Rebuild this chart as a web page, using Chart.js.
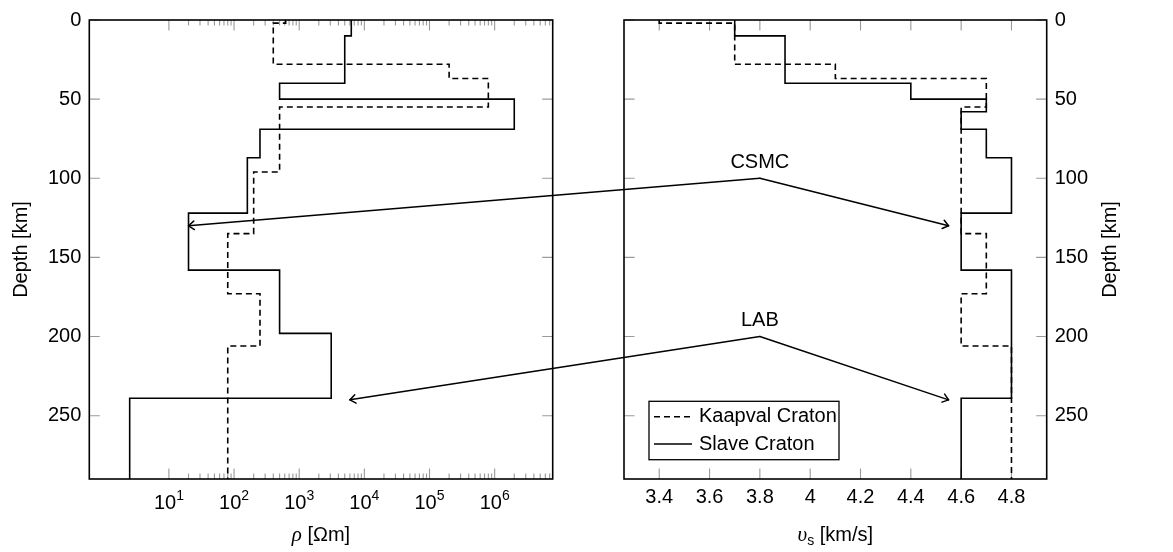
<!DOCTYPE html>
<html><head><meta charset="utf-8">
<script src="https://cdn.jsdelivr.net/npm/chart.js@4/dist/chart.umd.min.js"></script>
<style>
html,body{margin:0;padding:0;background:#fff;}
#wrap{position:relative;width:1173px;height:552px;background:#fff;}
canvas{position:absolute;left:0;top:0;}
</style></head><body>
<div id="wrap">
<canvas id="c1" width="1173" height="552"></canvas>
<canvas id="c2" width="1173" height="552"></canvas>
<canvas id="c3" width="1173" height="552"></canvas>
</div>
<script>
// ---------------- data ----------------
const seriesNames = ['Kaapval Craton', 'Slave Craton'];
const kaapvalTop = [0, 2, 28, 37, 55, 96, 135, 173, 206];
const kaapvalRho = [620, 400, 2e5, 8e5, 500, 200, 80, 250, 80];
const kaapvalVs  = [3.4, 3.7, 4.1, 4.7, 4.6, 4.6, 4.7, 4.6, 4.8];
const slaveTop = [0, 10, 40, 50, 58, 69, 87, 122, 158, 198, 239];
const slaveRho = [6300, 5000, 500, 2e6, 2e6, 250, 160, 20, 500, 3100, 2.5];
const slaveVs  = [3.7, 3.9, 4.4, 4.7, 4.6, 4.7, 4.8, 4.6, 4.8, 4.8, 4.6];
const depthMax = 290;
const depthTicks = [0, 50, 100, 150, 200, 250];
const rhoTicks = [1e1, 1e2, 1e3, 1e4, 1e5, 1e6];
const rhoRange = [0.643, 7.78e6];
const vsTicks = [3.4, 3.6, 3.8, 4.0, 4.2, 4.4, 4.6, 4.8];
const vsRange = [3.26, 4.94];
const annotLabels = ['CSMC', 'LAB'];
const annotFrom = [[3.8, 100], [3.8, 200]];
const annotToRho = [[20, 130], [6000, 240]];
const annotToVs = [[4.55, 130], [4.55, 240]];

// ---------------- helpers ----------------
const SANS = '"Liberation Sans", Arial, Helvetica, sans-serif';
const FS = 20;
function buildProfile(tops, vals) {
  const pts = tops.map((d, i) => ({x: vals[i], y: d}));
  pts.push({x: vals[vals.length - 1], y: depthMax});
  return pts;
}
const rhoMinor = rhoTicks.flatMap(m => [2,3,4,5,6,7,8,9].map(k => m * k)).filter(v => v <= rhoRange[1]);

function drawParts(ctx, parts, cx, baseY) {
  let total = 0;
  parts.forEach(p => { ctx.font = p.font; p.w = ctx.measureText(p.t).width; total += p.w; });
  let x = cx - total / 2;
  ctx.textAlign = 'left'; ctx.textBaseline = 'alphabetic'; ctx.fillStyle = '#000';
  parts.forEach(p => { ctx.font = p.font; ctx.fillText(p.t, x, baseY + (p.dy || 0)); x += p.w; });
}
function drawDepthTitle(ctx, x, y) {
  ctx.save();
  ctx.translate(x, y); ctx.rotate(-Math.PI / 2);
  ctx.font = FS + 'px ' + SANS; ctx.textAlign = 'center'; ctx.textBaseline = 'alphabetic'; ctx.fillStyle = '#000';
  ctx.fillText('Depth [km]', 0, 0);
  ctx.restore();
}

function panelPlugin(kind) {
  return {
    id: 'panel_' + kind,
    beforeDatasetsDraw(chart) {
      const {ctx, chartArea: a, scales: {x, y}} = chart;
      ctx.save();
      ctx.strokeStyle = '#9a9a9a'; ctx.lineWidth = 1.1;
      ctx.beginPath();
      const tx = (v, len) => {
        const p = x.getPixelForValue(v);
        ctx.moveTo(p, a.bottom); ctx.lineTo(p, a.bottom - len);
        ctx.moveTo(p, a.top); ctx.lineTo(p, a.top + len);
      };
      if (kind === 'rho') { rhoTicks.forEach(v => tx(v, 10.5)); rhoMinor.forEach(v => tx(v, 5.5)); }
      else { vsTicks.forEach(v => tx(v, 10.5)); }
      depthTicks.forEach(v => {
        const p = y.getPixelForValue(v);
        ctx.moveTo(a.left, p); ctx.lineTo(a.left + 10.5, p);
        ctx.moveTo(a.right, p); ctx.lineTo(a.right - 10.5, p);
      });
      ctx.stroke();
      ctx.restore();
    },
    afterDraw(chart) {
      const {ctx, chartArea: a, scales: {x}} = chart;
      ctx.save();
      ctx.strokeStyle = '#000'; ctx.lineWidth = 1.6;
      ctx.strokeRect(a.left, a.top, a.right - a.left, a.bottom - a.top);
      if (kind === 'rho') {
        rhoTicks.forEach(v => {
          const p = x.getPixelForValue(v);
          const e = String(Math.round(Math.log10(v)));
          drawParts(ctx, [
            {t: '10', font: FS + 'px ' + SANS},
            {t: e, font: '14px ' + SANS, dy: -8.5}
          ], p, a.bottom + 29.5);
        });
        drawParts(ctx, [
          {t: 'ρ', font: 'italic 21px "Liberation Serif", "DejaVu Serif", serif'},
          {t: ' [Ωm]', font: FS + 'px ' + SANS}
        ], (a.left + a.right) / 2, a.bottom + 62);
        drawDepthTitle(ctx, a.left - 62.5, (a.top + a.bottom) / 2);
      } else {
        drawParts(ctx, [
          {t: 'υ', font: 'italic 21px "Liberation Serif", "DejaVu Serif", serif'},
          {t: 's', font: '14px ' + SANS, dy: 4},
          {t: ' [km/s]', font: FS + 'px ' + SANS}
        ], (a.left + a.right) / 2, a.bottom + 62);
        drawDepthTitle(ctx, a.right + 69.5, (a.top + a.bottom) / 2);
        // legend
        const lx = a.left + 25, ly = a.top + 381.3, lw = 190, lh = 58.4;
        ctx.fillStyle = '#fff'; ctx.fillRect(lx, ly, lw, lh);
        ctx.strokeStyle = '#000'; ctx.lineWidth = 1.3; ctx.strokeRect(lx, ly, lw, lh);
        chart.data.datasets.forEach((ds, i) => {
          const yy = ly + 15.4 + i * 27.3;
          ctx.beginPath();
          ctx.setLineDash(ds.borderDash || []);
          ctx.lineWidth = ds.borderWidth; ctx.strokeStyle = ds.borderColor;
          ctx.moveTo(lx + 5, yy); ctx.lineTo(lx + 43, yy); ctx.stroke();
          ctx.setLineDash([]);
          ctx.fillStyle = '#000'; ctx.font = FS + 'px ' + SANS;
          ctx.textAlign = 'left'; ctx.textBaseline = 'middle';
          ctx.fillText(ds.label, lx + 50, yy);
        });
      }
      ctx.restore();
    }
  };
}

function datasets(kVals, sVals) {
  return [
    {label: seriesNames[0], data: buildProfile(kaapvalTop, kVals), showLine: true, stepped: 'after',
     borderColor: '#000', borderWidth: 1.6, borderDash: [6, 4], pointRadius: 0, order: 1},
    {label: seriesNames[1], data: buildProfile(slaveTop, sVals), showLine: true, stepped: 'after',
     borderColor: '#000', borderWidth: 1.6, pointRadius: 0, order: 0}
  ];
}

const yScale = (pos, width) => ({
  type: 'linear', position: pos, reverse: true, min: 0, max: depthMax,
  grid: {display: false, drawTicks: false}, border: {display: false},
  ticks: {color: '#000', font: {family: SANS, size: FS}, padding: 8},
  afterBuildTicks: s => { s.ticks = depthTicks.map(v => ({value: v})); },
  afterFit: s => { s.width = width; }
});

const common = {
  responsive: false, animation: false, devicePixelRatio: 1, events: [],
  plugins: {legend: {display: false}, tooltip: {enabled: false}}
};

const leftChart = new Chart(document.getElementById('c1'), {
  type: 'scatter',
  data: {datasets: datasets(kaapvalRho, slaveRho)},
  options: Object.assign({}, common, {
    layout: {padding: {left: 0, top: 16, right: 620.3, bottom: 0}},
    scales: {
      x: {type: 'logarithmic', position: 'bottom', min: rhoRange[0], max: rhoRange[1],
          grid: {display: false, drawTicks: false}, border: {display: false},
          ticks: {display: false},
          afterBuildTicks: s => { s.ticks = rhoTicks.map(v => ({value: v})); },
          afterFit: s => { s.height = 73; }},
      y: yScale('left', 89.3)
    }
  }),
  plugins: [panelPlugin('rho')]
});

const rightChart = new Chart(document.getElementById('c2'), {
  type: 'scatter',
  data: {datasets: datasets(kaapvalVs, slaveVs)},
  options: Object.assign({}, common, {
    layout: {padding: {left: 624, top: 16, right: 0, bottom: 0}},
    scales: {
      x: {type: 'linear', position: 'bottom', min: vsRange[0], max: vsRange[1],
          grid: {display: false, drawTicks: false}, border: {display: false},
          ticks: {color: '#000', font: {family: SANS, size: FS}, padding: 6.5,
                  callback: v => String(+(+v).toFixed(2))},
          afterBuildTicks: s => { s.ticks = vsTicks.map(v => ({value: v})); },
          afterFit: s => { s.height = 73; }},
      y: yScale('right', 126.3)
    }
  }),
  plugins: [panelPlugin('vs')]
});

// ---------------- annotations (overlay across both panels) ----------------
(function drawAnnotations() {
  const ctx = document.getElementById('c3').getContext('2d');
  const RX = rightChart.scales.x, RY = rightChart.scales.y, LX = leftChart.scales.x, LY = leftChart.scales.y;
  function arrow(x0, y0, x1, y1) {
    ctx.beginPath(); ctx.moveTo(x0, y0); ctx.lineTo(x1, y1); ctx.stroke();
    const ang = Math.atan2(y1 - y0, x1 - x0), L = 7, s = 0.65;
    ctx.beginPath();
    ctx.moveTo(x1 - L * Math.cos(ang - s), y1 - L * Math.sin(ang - s));
    ctx.lineTo(x1, y1);
    ctx.lineTo(x1 - L * Math.cos(ang + s), y1 - L * Math.sin(ang + s));
    ctx.stroke();
  }
  ctx.strokeStyle = '#000'; ctx.lineWidth = 1.5; ctx.lineCap = 'round'; ctx.lineJoin = 'round';
  annotLabels.forEach((lab, i) => {
    const vx = RX.getPixelForValue(annotFrom[i][0]), vy = RY.getPixelForValue(annotFrom[i][1]);
    arrow(vx, vy, LX.getPixelForValue(annotToRho[i][0]), LY.getPixelForValue(annotToRho[i][1]));
    arrow(vx, vy, RX.getPixelForValue(annotToVs[i][0]), RY.getPixelForValue(annotToVs[i][1]));
    ctx.fillStyle = '#000'; ctx.font = FS + 'px ' + SANS; ctx.textAlign = 'center'; ctx.textBaseline = 'alphabetic';
    ctx.fillText(lab, vx, vy - 10.5);
  });
})();
</script>
</body></html>
